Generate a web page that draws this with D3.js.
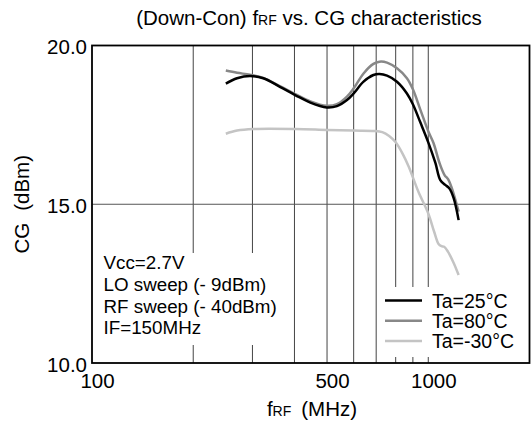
<!DOCTYPE html>
<html>
<head>
<meta charset="utf-8">
<script src="https://cdn.jsdelivr.net/npm/d3@7"></script>
<style>
  body { margin: 0; background: #fff; }
  svg { display: block; font-family: "Liberation Sans", Arial, sans-serif; }
</style>
</head>
<body>
<svg id="chart"></svg>
<script>
// tick values and grid
var freqTicks = [100, 500, 1000];
var gridFreqs = [200, 300, 400, 500, 600, 700, 800, 900, 1000];
var cgTicks = [10, 15, 20];
var cgGrid = [15];

// Ta=25°C
var freq25 = [250, 270, 295, 323, 362, 402, 446, 499, 535, 573, 600, 642, 687, 716, 754, 807, 864, 900, 947, 1000, 1050, 1086, 1123, 1155, 1190, 1231];
var cg25   = [18.80, 18.97, 19.04, 18.97, 18.70, 18.44, 18.20, 18.05, 18.09, 18.28, 18.49, 18.86, 19.07, 19.10, 19.05, 18.86, 18.49, 18.15, 17.58, 16.95, 16.30, 15.76, 15.61, 15.50, 15.19, 14.50];
// Ta=80°C
var freq80 = [250, 270, 295, 323, 362, 402, 446, 499, 535, 573, 600, 642, 687, 716, 754, 807, 864, 900, 947, 1000, 1037, 1080, 1118, 1145, 1171, 1231];
var cg80   = [19.21, 19.14, 19.08, 18.98, 18.72, 18.47, 18.24, 18.10, 18.15, 18.39, 18.65, 19.12, 19.42, 19.49, 19.46, 19.28, 18.97, 18.62, 17.98, 17.30, 16.92, 16.30, 15.92, 15.79, 15.55, 14.77];
// Ta=-30°C
var freqM30 = [250, 270, 302, 402, 500, 600, 690, 730, 765, 800, 840, 875, 934, 1000, 1040, 1073, 1095, 1115, 1144, 1190, 1231];
var cgM30   = [17.22, 17.32, 17.37, 17.37, 17.34, 17.32, 17.31, 17.27, 17.15, 16.95, 16.58, 16.18, 15.40, 14.71, 14.15, 13.75, 13.68, 13.66, 13.51, 13.15, 12.77];

var legendLabels = ["Ta=25°C", "Ta=80°C", "Ta=-30°C"];
var noteLines = ["Vcc=2.7V", "LO sweep (- 9dBm)", "RF sweep (- 40dBm)", "IF=150MHz"];

var width = 532, height = 426;
var svg = d3.select("#chart").attr("width", width).attr("height", height);

var x = d3.scaleLog().domain([100, 2000]).range([92, 529.5]);
var y = d3.scaleLinear().domain([10, 20]).range([363, 45.5]);

var series = [
  {f: freq25, v: cg25, color: "#000"},
  {f: freq80, v: cg80, color: "#888"},
  {f: freqM30, v: cgM30, color: "#c4c4c4"}
];

// grid
var grid = svg.append("g");
grid.selectAll("line.v")
  .data(gridFreqs)
  .enter().append("line")
  .attr("class", "v")
  .attr("x1", function(d) { return x(d); })
  .attr("x2", function(d) { return x(d); })
  .attr("y1", y(20))
  .attr("y2", y(10))
  .style("stroke", "#444")
  .style("stroke-width", 1);
grid.selectAll("line.h")
  .data(cgGrid)
  .enter().append("line")
  .attr("class", "h")
  .attr("x1", x(100))
  .attr("x2", x(2000))
  .attr("y1", function(d) { return y(d); })
  .attr("y2", function(d) { return y(d); })
  .style("stroke", "#555")
  .style("stroke-width", 1);

// white boxes behind the notes and legend
svg.append("rect").attr("x", 96).attr("y", 253).attr("width", 186).attr("height", 92).style("fill", "#fff");
svg.append("rect").attr("x", 381).attr("y", 287).attr("width", 147).attr("height", 70).style("fill", "#fff");

// curves
var line = d3.line()
  .x(function(d) { return x(d[0]); })
  .y(function(d) { return y(d[1]); })
  .curve(d3.curveCatmullRom.alpha(0.5));

svg.append("g").selectAll("path")
  .data(series.slice().reverse())
  .enter().append("path")
  .attr("d", function(s) { return line(s.f.map(function(f, i) { return [f, s.v[i]]; })); })
  .style("fill", "none")
  .style("stroke", function(s) { return s.color; })
  .style("stroke-width", 2.5);

// frame
svg.append("rect")
  .attr("x", x(100))
  .attr("y", y(20))
  .attr("width", x(2000) - x(100))
  .attr("height", y(10) - y(20))
  .style("fill", "none")
  .style("stroke", "#000")
  .style("stroke-width", 1.8);

// axes
var xAxis = svg.append("g")
  .attr("transform", "translate(0," + y(10) + ")")
  .call(d3.axisBottom(x).tickValues(freqTicks).tickFormat(d3.format("d")).tickSize(0).tickPadding(10));
var yAxis = svg.append("g")
  .attr("transform", "translate(" + x(100) + ",0)")
  .call(d3.axisLeft(y).tickValues(cgTicks).tickFormat(d3.format(".1f")).tickSize(0).tickPadding(5));
[xAxis, yAxis].forEach(function(a) {
  a.select(".domain").remove();
  a.selectAll("text")
    .attr("font-family", null)
    .style("font-size", "20.5px")
    .style("fill", "#000");
});
xAxis.selectAll("text").attr("dx", 5);
yAxis.selectAll("text").attr("dy", "0.4em");

// title
var title = svg.append("text")
  .attr("x", 309)
  .attr("y", 25)
  .attr("text-anchor", "middle")
  .style("font-size", "20.5px");
title.append("tspan").text("(Down-Con) f");
title.append("tspan").style("font-size", "14px").text("RF");
title.append("tspan").text(" vs. CG characteristics");

// x label
var xl = svg.append("text")
  .attr("x", 312)
  .attr("y", 416)
  .attr("text-anchor", "middle")
  .style("font-size", "20.5px");
xl.append("tspan").text("f");
xl.append("tspan").style("font-size", "14px").text("RF");
xl.append("tspan").attr("dx", 10).text("(MHz)");

// y label
var yl = svg.append("text")
  .attr("transform", "translate(29," + y(15) + ") rotate(-90)")
  .attr("text-anchor", "middle")
  .style("font-size", "20.5px");
yl.append("tspan").text("CG");
yl.append("tspan").attr("dx", 12).text("(dBm)");

// notes
svg.append("g").selectAll("text")
  .data(noteLines)
  .enter().append("text")
  .attr("x", 103.5)
  .attr("y", function(d, i) { return 269 + i * 21.8; })
  .style("font-size", "18.8px")
  .text(function(d) { return d; });

// legend
var legend = svg.append("g").selectAll("g")
  .data(series)
  .enter().append("g")
  .attr("transform", function(d, i) { return "translate(0," + (300.5 + i * 20.3) + ")"; });
legend.append("line")
  .attr("x1", 385)
  .attr("x2", 422)
  .style("stroke", function(d) { return d.color; })
  .style("stroke-width", 2.5);
legend.append("text")
  .attr("x", 432)
  .attr("dy", "0.36em")
  .style("font-size", "19.5px")
  .text(function(d, i) { return legendLabels[i]; });
</script>
</body>
</html>
